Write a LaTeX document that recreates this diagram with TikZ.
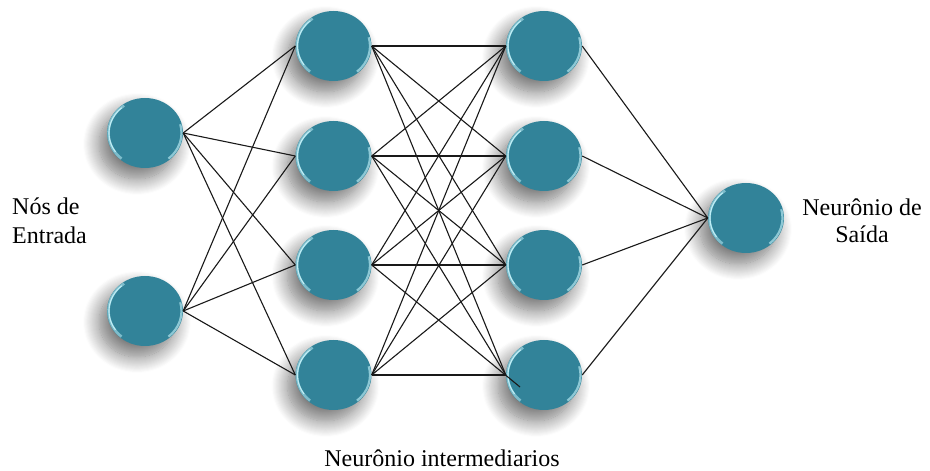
\documentclass[tikz,border=0pt]{standalone}
\usepackage{fontspec}
\setmainfont{Liberation Serif}
\usetikzlibrary{shapes.geometric,shadows.blur}
\definecolor{neuronfill}{RGB}{50,131,153}
\definecolor{rimlight}{RGB}{190,238,246}
\begin{document}
\begin{tikzpicture}[x=1pt,y=1pt,
  neuron/.style={ellipse, minimum width=76pt, minimum height=70pt, inner sep=0pt,
    fill=neuronfill,
    blur shadow={shadow xshift=-8pt, shadow yshift=-11pt, shadow blur radius=16pt, shadow blur steps=16, shadow opacity=55},
    path picture={
      \draw[rimlight,line width=2.6pt,opacity=0.55] ([shift={(125:36.5pt and 33.5pt)}]path picture bounding box.center) arc[start angle=125,end angle=230,x radius=36.5pt,y radius=33.5pt];
      \draw[rimlight,line width=1.1pt] ([shift={(130:36pt and 33pt)}]path picture bounding box.center) arc[start angle=130,end angle=215,x radius=36pt,y radius=33pt];
      \draw[rimlight,line width=2.2pt,opacity=0.65] ([shift={(-50:36.5pt and 33.5pt)}]path picture bounding box.center) arc[start angle=-50,end angle=15,x radius=36.5pt,y radius=33.5pt];
    }},
  link/.style={line width=1.1pt, black!90},
  lbl/.style={font=\fontsize{24}{29}\selectfont, inner sep=0pt}]
\useasboundingbox (0,0) rectangle (930,471);

\node[neuron] (i1) at (145,338) {};
\node[neuron] (i2) at (145,160) {};
\node[neuron] (a1) at (333.5,425) {};
\node[neuron] (a2) at (333.5,315) {};
\node[neuron] (a3) at (333.5,206) {};
\node[neuron] (a4) at (333.5,96) {};
\node[neuron] (b1) at (544,425) {};
\node[neuron] (b2) at (544,315) {};
\node[neuron] (b3) at (544,206) {};
\node[neuron] (b4) at (544,96) {};
\node[neuron] (o) at (746,253) {};
\coordinate (ov) at (520,84);

\foreach \i in {1,2}{\foreach \j in {1,2,3,4}{\draw[link] (i\i.east) -- (a\j.west);}}
\foreach \i in {1,2,3,4}{\foreach \j in {1,2,3,4}{%
  \ifnum\i\j=34\else\draw[link] (a\i.east) -- (b\j.west);\fi}}
\draw[link] (a3.east) -- (ov);
\foreach \j in {1,2,3,4}{\draw[link] (b\j.east) -- (o.west);}

\node[lbl, anchor=base west] (t1) at (12,256) {Nós de};
\node[lbl, anchor=base west] (t2) at (12,227) {Entrada};
\node[lbl, anchor=base] (t3) at (862,255) {Neurônio de};
\node[lbl, anchor=base] (t4) at (862,228) {Saída};
\node[lbl, anchor=base] (t5) at (442,4) {Neurônio intermediarios};
\end{tikzpicture}
\end{document}
